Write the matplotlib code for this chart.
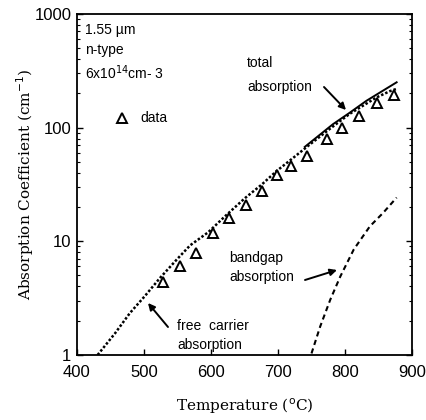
import matplotlib
matplotlib.use("Agg")
import matplotlib.pyplot as plt
from matplotlib.ticker import LogLocator, NullFormatter, FixedLocator

# data
data_T = [529, 554, 578, 603, 627, 652, 676, 698, 719, 743, 773, 796, 821, 848, 873]
data_alpha = [4.4, 6.0, 7.9, 11.9, 16.0, 21.0, 27.6, 38.0, 46.0, 56.0, 79, 100, 126, 166, 192]

free_T = [431, 457, 479, 501, 524, 549, 569, 596, 623, 651, 676, 698, 723, 748, 778, 807, 847, 867, 877]
free_alpha = [1.0, 1.55, 2.33, 3.27, 4.75, 6.9, 9.2, 12.0, 17.0, 24.0, 31.6, 41.5, 54.3, 71.3, 98, 132, 184, 209, 219]

total_T = [740, 782, 807, 832, 877]
total_alpha = [67.6, 107, 135, 172, 250]

bandgap_T = [750, 763, 778, 793, 813, 837, 857, 877]
bandgap_alpha = [1.03, 1.78, 3.06, 4.9, 8.45, 13.5, 17.8, 24.2]

x_ticks = [400, 500, 600, 700, 800, 900]
y_ticks = [1, 10, 100, 1000]
y_tick_labels = ["1", "10", "100", "1000"]

fig = plt.figure(figsize=(4.27, 4.20), dpi=100)
ax = fig.add_axes([0.180, 0.155, 0.785, 0.812])

ax.plot(free_T, free_alpha, linestyle=(0, (1, 0.8)), color="black", lw=1.8)
ax.plot(total_T, total_alpha, "-", color="black", lw=1.4)
ax.plot(bandgap_T, bandgap_alpha, linestyle=(0, (2.5, 1.8)), color="black", lw=1.5)
ax.plot(data_T, data_alpha, linestyle="none", marker="^", mfc="white", mec="black",
        mew=1.4, ms=7)

ax.set_yscale("log")
ax.set_xlim(400, 900)
ax.set_ylim(1, 1000)
ax.set_xticks(x_ticks)
ax.set_xticklabels([str(t) for t in x_ticks], fontsize=12, family="Liberation Sans")
ax.yaxis.set_major_locator(FixedLocator(y_ticks))
ax.set_yticklabels(y_tick_labels, fontsize=12, family="Liberation Sans")
ax.yaxis.set_minor_locator(LogLocator(base=10, subs=range(2, 10)))
ax.yaxis.set_minor_formatter(NullFormatter())
ax.tick_params(axis="both", which="major", direction="in", length=4, width=1,
               right=True, top=False)
ax.tick_params(axis="x", which="major", pad=7)
ax.tick_params(axis="y", which="major", pad=4)
ax.tick_params(axis="y", which="minor", direction="in", length=2, width=0.8, right=True)
for s in ax.spines.values():
    s.set_linewidth(1.3)

ax.set_xlabel("Temperature ($^{\\rm o}$C)", family="DejaVu Serif", fontsize=11, labelpad=12)
ax.set_ylabel("Absorption Coefficient (cm$^{-1}$)", family="DejaVu Serif", fontsize=11, labelpad=-1)


def txt(px, py, s, **kw):
    fig.text(px / 427, 1 - py / 420, s, family="Liberation Sans", fontsize=10,
             va="center", ha="left", **kw)


txt(85, 30, "1.55 µm")
txt(85, 50, "n-type")
txt(85, 73, "6x10$^{14}$cm- 3")
txt(140, 118, "data")
ax.plot([(122 - 77) / 335], [(355 - 118) / 341], transform=ax.transAxes, marker="^",
        mfc="white", mec="black", mew=1.4, ms=7)
txt(247, 63, "total")
txt(247, 87, "absorption")
txt(229, 258, "bandgap")
txt(229, 277, "absorption")
txt(177, 326, "free  carrier")
txt(177, 345, "absorption")


def arrow(x0, y0, x1, y1):
    ax.annotate("", xy=(x1, 420 - y1), xytext=(x0, 420 - y0), xycoords="figure pixels",
                textcoords="figure pixels",
                arrowprops=dict(arrowstyle="-|>", color="black", lw=1.4, mutation_scale=10,
                                shrinkA=0, shrinkB=0))


arrow(324, 87, 346, 110)
arrow(305, 280, 337, 270)
arrow(168, 327, 148, 303)

fig.savefig("out.png", dpi=100)
